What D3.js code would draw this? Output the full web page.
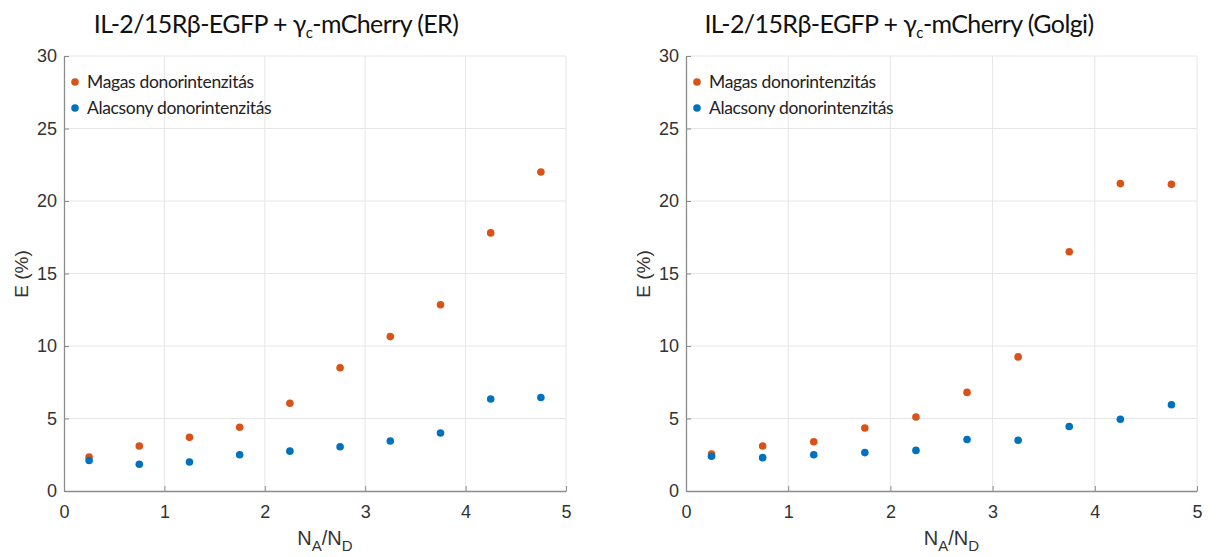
<!DOCTYPE html>
<html>
<head>
<meta charset="utf-8">
<script src="https://cdn.jsdelivr.net/npm/d3@7"></script>
<style>
  body { margin: 0; background: #fff; }
  svg { display: block; }
</style>
</head>
<body>
<div id="chart"></div>
<script>
// N_A/N_D bins
var ratio = [0.25, 0.75, 1.25, 1.75, 2.25, 2.75, 3.25, 3.75, 4.25, 4.75];

// ER panel
var erHigh = [2.35, 3.1, 3.7, 4.4, 6.05, 8.5, 10.65, 12.85, 17.8, 22.0];
var erLow  = [2.1, 1.85, 2.0, 2.5, 2.75, 3.05, 3.45, 4.0, 6.35, 6.45];

// Golgi panel
var golgiHigh = [2.55, 3.1, 3.4, 4.35, 5.1, 6.8, 9.25, 16.5, 21.2, 21.15];
var golgiLow  = [2.4, 2.3, 2.5, 2.65, 2.8, 3.55, 3.5, 4.45, 4.95, 5.95];

var xTicks = [0, 1, 2, 3, 4, 5];
var yTicks = [0, 5, 10, 15, 20, 25, 30];
var seriesNames = ["Magas donorintenzitás", "Alacsony donorintenzitás"];
var colors = ["#D95319", "#0072BD"];

var svg = d3.select("#chart").append("svg")
  .attr("width", 1223)
  .attr("height", 557);

function drawPanel(opts) {
  var x = d3.scaleLinear().domain([0, 5]).range([opts.left, opts.right]);
  var y = d3.scaleLinear().domain([0, 30]).range([491, 56]);
  var g = svg.append("g");

  // grid
  g.selectAll("line.vg").data(xTicks.slice(1)).enter().append("line")
    .attr("x1", function(d){ return x(d); }).attr("x2", function(d){ return x(d); })
    .attr("y1", y(0)).attr("y2", y(30))
    .attr("stroke", "#e6e6e6").attr("stroke-width", 1);
  g.selectAll("line.hg").data(yTicks.slice(1)).enter().append("line")
    .attr("x1", x(0)).attr("x2", x(5))
    .attr("y1", function(d){ return y(d); }).attr("y2", function(d){ return y(d); })
    .attr("stroke", "#e6e6e6").attr("stroke-width", 1);

  // axes
  var ax = g.append("g")
    .attr("transform", "translate(0," + y(0) + ")")
    .call(d3.axisBottom(x).tickValues(xTicks).tickFormat(d3.format("d"))
      .tickSizeInner(-5).tickSizeOuter(0).tickPadding(14));
  var ay = g.append("g")
    .attr("transform", "translate(" + x(0) + ",0)")
    .call(d3.axisLeft(y).tickValues(yTicks).tickFormat(d3.format("d"))
      .tickSizeInner(-5).tickSizeOuter(0).tickPadding(7));
  [ax, ay].forEach(function(a){
    a.select(".domain").attr("stroke", "#8c8c8c").attr("stroke-width", 1.3);
    a.selectAll(".tick line").attr("stroke", "#8c8c8c");
    a.selectAll("text")
      .attr("fill", "#333")
      .style("font-family", "'Liberation Sans', Arial, sans-serif")
      .style("font-size", "18px");
  });

  // points
  [opts.high, opts.low].forEach(function(vals, si){
    g.selectAll("circle.s" + si).data(vals).enter().append("circle")
      .attr("cx", function(d, i){ return x(ratio[i]); })
      .attr("cy", function(d){ return y(d); })
      .attr("r", 3.8)
      .attr("fill", colors[si]);
  });

  // legend
  seriesNames.forEach(function(name, i){
    var ly = 82 + i * 26;
    g.append("circle").attr("cx", opts.left + 11).attr("cy", ly).attr("r", 3.8).attr("fill", colors[i]);
    g.append("text").attr("x", opts.left + 23).attr("y", ly + 6)
      .style("font-family", "Lato, 'Open Sans', sans-serif")
      .style("font-size", "17.5px")
      .style("letter-spacing", "-0.35px")
      .attr("fill", "#222")
      .text(name);
  });

  // title
  var t = g.append("text")
    .attr("x", opts.titleX).attr("y", 33)
    .attr("text-anchor", "middle")
    .style("font-family", "Lato, 'Open Sans', sans-serif")
    .style("font-size", "25px")
    .style("letter-spacing", "-0.6px")
    .attr("fill", "#111");
  t.append("tspan").text("IL-2/15Rβ-EGFP + γ");
  t.append("tspan").attr("dy", 5).style("font-size", "15px").text("c");
  t.append("tspan").attr("dy", -5).text("-mCherry (" + opts.organelle + ")");

  // y label
  g.append("text")
    .attr("transform", "translate(" + (opts.left - 36) + ",274) rotate(-90)")
    .attr("text-anchor", "middle")
    .style("font-family", "'Liberation Sans', Arial, sans-serif")
    .style("font-size", "19px")
    .attr("fill", "#333")
    .text("E (%)");

  // x label
  var xl = g.append("text")
    .attr("x", (opts.left + opts.right) / 2 + 10).attr("y", 545)
    .attr("text-anchor", "middle")
    .style("font-family", "'Liberation Sans', Arial, sans-serif")
    .style("font-size", "20px")
    .attr("fill", "#333");
  xl.append("tspan").text("N");
  xl.append("tspan").attr("dy", 6).style("font-size", "15px").text("A");
  xl.append("tspan").attr("dy", -6).text("/N");
  xl.append("tspan").attr("dy", 6).style("font-size", "15px").text("D");
}

drawPanel({ left: 64, right: 566, titleX: 276, organelle: "ER", high: erHigh, low: erLow });
drawPanel({ left: 686, right: 1197, titleX: 899, organelle: "Golgi", high: golgiHigh, low: golgiLow });
</script>
</body>
</html>
